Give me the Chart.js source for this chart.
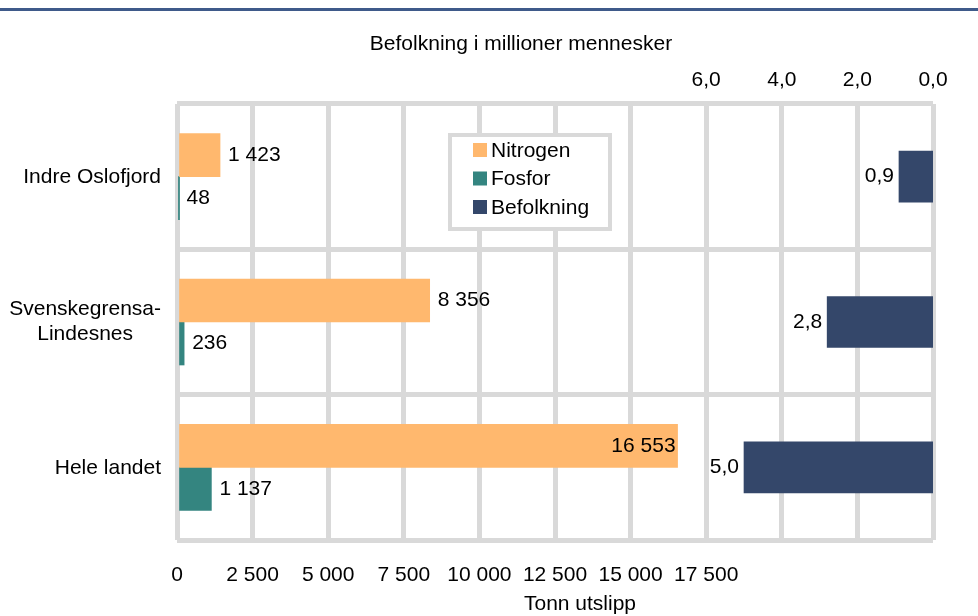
<!DOCTYPE html>
<html>
<head>
<meta charset="utf-8">
<script src="https://cdn.jsdelivr.net/npm/chart.js@4.4.0/dist/chart.umd.min.js"></script>
<style>
  body { margin: 0; background: #fff; }
  #wrap { position: relative; width: 978px; height: 616px; }
</style>
</head>
<body>
<div id="wrap"><canvas id="chart" width="978" height="616"></canvas></div>
<script>
// ==============================
// DATA
// ==============================
const regions    = ["Indre Oslofjord", ["Svenskegrensa-", "Lindesnes"], "Hele landet"];
const nitrogen   = [1423, 8356, 16553];   // tonn
const fosfor     = [48, 236, 1137];       // tonn
const befolkning = [0.9, 2.8, 5.0];       // millioner

const tonnMax = 25000, tonnStep = 2500, tonnLastLabel = 17500;
const befMax = 20, befStep = 2, befLastLabel = 6;

const titleTop    = "Befolkning i millioner mennesker";
const titleBottom = "Tonn utslipp";

// ==============================
// HELPERS
// ==============================
const FONT = "'Liberation Sans', Arial, sans-serif";
const FSIZE = 21;
const GRID = "#d9d9d9";

function fmtTonn(v){
    return String(Math.round(v)).replace(/\B(?=(\d{3})+(?!\d))/g, " ");
}
function fmtMill(v){
    return Number(v).toFixed(1).replace(".", ",");
}

// ==============================
// PLUGINS
// ==============================
const decorPlugin = {
    id: "decor",
    beforeDraw(chart){
        const c = chart.ctx;
        c.save();
        c.fillStyle = "#3f5a8a";
        c.fillRect(0, 8, chart.width, 3);
        c.restore();
    },
    afterDraw(chart){
        const c = chart.ctx;
        const area = chart.chartArea;
        c.save();
        c.font = FSIZE + "px " + FONT;
        c.fillStyle = "#000";
        c.textAlign = "center";
        c.textBaseline = "middle";
        c.fillText(titleTop, area.left + 344, 44);
        c.fillText(titleBottom, area.left + 403, 604);

        // -- category labels (multi-line centred on itself) --
        const yScale = chart.scales.y;
        const right = area.left - 16;
        chart.data.labels.forEach((lab, i) => {
            const y = yScale.getPixelForValue(i);
            if(Array.isArray(lab)){
                const w = Math.max(...lab.map(l => c.measureText(l).width));
                const lh = FSIZE * 1.2;
                c.textAlign = "center";
                lab.forEach((l, k) => {
                    c.fillText(l, right - w / 2, y + (k - (lab.length - 1) / 2) * lh);
                });
            } else {
                c.textAlign = "right";
                c.fillText(lab, right, y + 1);
            }
        });

        // -- legend box --
        const lx = 450, ly = 135, lw = 160, lh = 94;
        c.fillStyle = "#fff";
        c.fillRect(lx, ly, lw, lh);
        c.strokeStyle = GRID;
        c.lineWidth = 4;
        c.strokeRect(lx, ly, lw, lh);
        c.textAlign = "left";
        chart.data.datasets.forEach((ds, i) => {
            const cy = 150 + i * 28.5;
            c.fillStyle = ds.backgroundColor;
            c.fillRect(473, cy - 7, 14, 14);
            c.fillStyle = "#000";
            c.fillText(ds.label, 491, cy + 1);
        });
        c.restore();
    },
    afterDatasetsDraw(chart){
        const c = chart.ctx;
        const xScale = chart.scales.x;
        const limit = xScale.getPixelForValue(tonnLastLabel);
        c.save();
        c.font = FSIZE + "px " + FONT;
        c.fillStyle = "#000";
        c.textBaseline = "middle";
        chart.data.datasets.forEach((ds, di) => {
            const meta = chart.getDatasetMeta(di);
            meta.data.forEach((bar, i) => {
                const v = ds.data[i];
                if(ds.xAxisID === "x2"){
                    c.textAlign = "right";
                    c.fillText(fmtMill(v), bar.x - 5, bar.y);
                } else {
                    const txt = fmtTonn(v);
                    const w = c.measureText(txt).width;
                    if(bar.x + 8 + w > limit){
                        c.textAlign = "right";
                        c.fillText(txt, bar.x - 2, bar.y);
                    } else {
                        c.textAlign = "left";
                        c.fillText(txt, bar.x + 8, bar.y);
                    }
                }
            });
        });
        c.restore();
    }
};

// ==============================
// CHART
// ==============================
Chart.defaults.font.family = FONT;
Chart.defaults.font.size = FSIZE;
Chart.defaults.color = "#000";

new Chart(document.getElementById("chart"), {
    type: "bar",
    data: {
        labels: regions,
        datasets: [
            { label: "Nitrogen",   data: nitrogen,   xAxisID: "x",  backgroundColor: "#ffb86e", barThickness: 43 },
            { label: "Fosfor",     data: fosfor,     xAxisID: "x",  backgroundColor: "#348580", barThickness: 43 },
            { label: "Befolkning", data: befolkning, xAxisID: "x2", backgroundColor: "#34476a", barThickness: 51, grouped: false }
        ]
    },
    options: {
        indexAxis: "y",
        responsive: false,
        animation: false,
        layout: { padding: { left: 0, right: 45, top: 0, bottom: 0 } },
        plugins: {
            legend: { display: false },
            tooltip: { enabled: false }
        },
        scales: {
            y: {
                offset: true,
                grid: { color: GRID, lineWidth: 5, drawTicks: false, offset: true },
                border: { display: false },
                ticks: { display: false },
                afterFit(s){ s.width = 177; }
            },
            x: {
                position: "bottom",
                min: 0, max: tonnMax,
                grid: { color: GRID, lineWidth: 5, drawTicks: false },
                border: { display: false },
                ticks: {
                    stepSize: tonnStep, padding: 23, autoSkip: false, maxRotation: 0,
                    callback: v => v <= tonnLastLabel ? fmtTonn(v) : ""
                },
                afterFit(s){ s.height = 76; }
            },
            x2: {
                position: "top",
                reverse: true,
                min: 0, max: befMax,
                grid: { display: false, drawTicks: false },
                border: { display: false },
                ticks: {
                    stepSize: befStep, padding: 11, autoSkip: false, maxRotation: 0,
                    callback: v => v <= befLastLabel ? fmtMill(v) : ""
                },
                afterFit(s){ s.height = 104; }
            }
        }
    },
    plugins: [decorPlugin]
});
</script>
</body>
</html>
